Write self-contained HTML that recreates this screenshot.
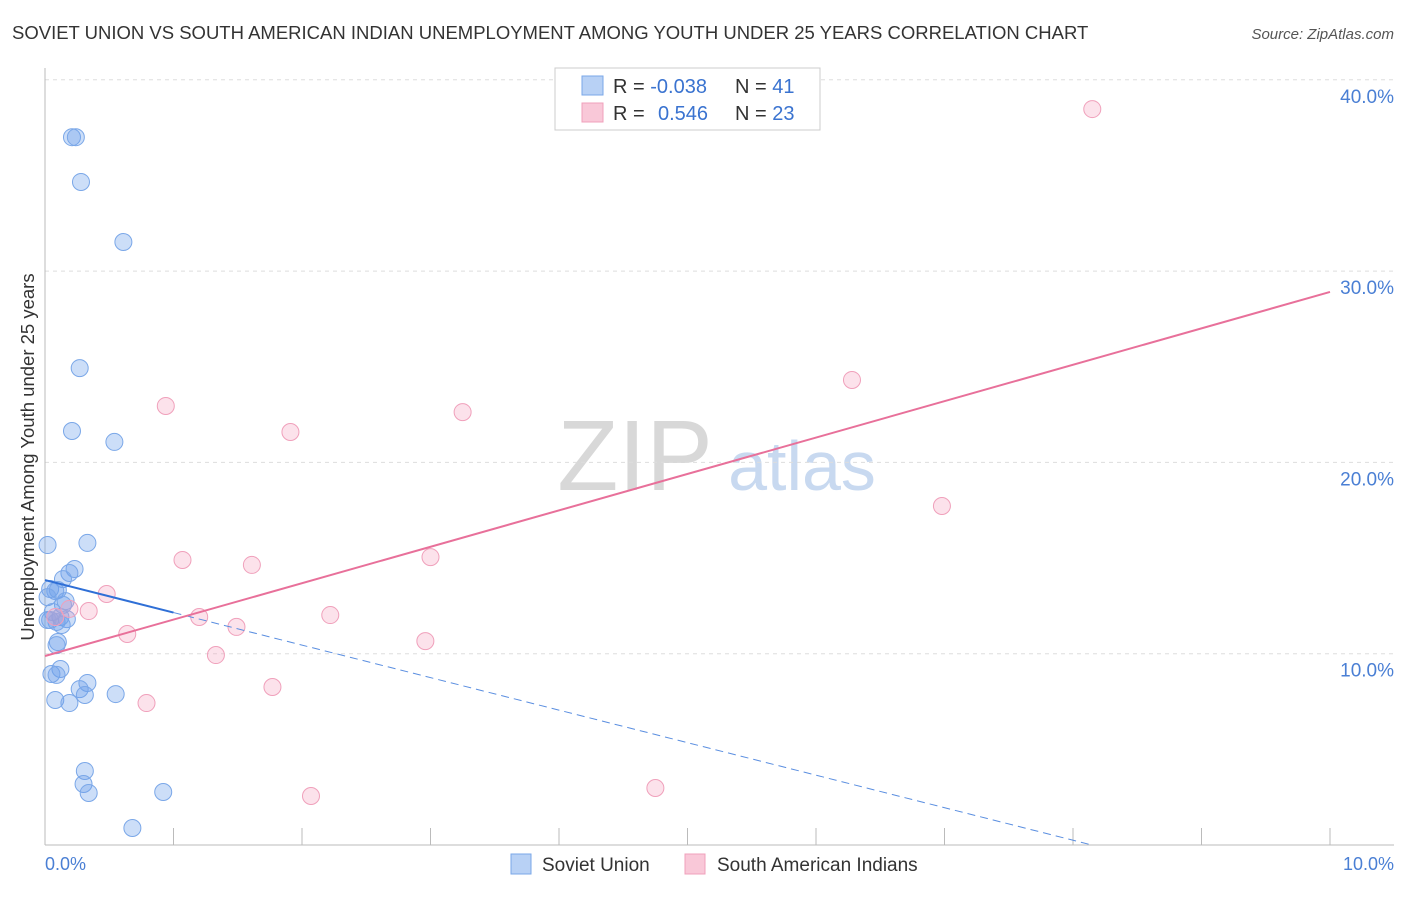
<!DOCTYPE html>
<html><head><meta charset="utf-8"><style>
body{margin:0;background:#fff;font-family:"Liberation Sans",sans-serif;}
svg text{font-family:"Liberation Sans",sans-serif;}
</style></head><body>
<svg id="chart" width="1406" height="892" viewBox="0 0 1406 892" xmlns="http://www.w3.org/2000/svg">
<text x="12" y="39" font-size="18.5" fill="#333">SOVIET UNION VS SOUTH AMERICAN INDIAN UNEMPLOYMENT AMONG YOUTH UNDER 25 YEARS CORRELATION CHART</text>
<text x="1394" y="39" font-size="15" fill="#555" font-style="italic" text-anchor="end">Source: ZipAtlas.com</text>
<g>
<text x="635" y="490" font-size="100" fill="#d8d8d8" text-anchor="middle" font-family="Liberation Serif, serif">ZIP</text>
<text x="802" y="490" font-size="70" fill="#c8d9f0" text-anchor="middle">atlas</text>
</g>
<g id="grid"></g>
<g id="axes"></g>
<g id="marks"></g>
<text transform="translate(34,457) rotate(-90)" font-size="18.5" fill="#333" text-anchor="middle">Unemployment Among Youth under 25 years</text>
<text x="45" y="870" font-size="18" fill="#4a7fd4">0.0%</text>
<text x="1394" y="870" font-size="18" fill="#4a7fd4" text-anchor="end">10.0%</text>
<g>
<rect x="555" y="68" width="265" height="62" fill="#fff" stroke="#ccc"/>
<rect x="582" y="76" width="21" height="19" fill="#b8d1f5" stroke="#7aa7e8"/>
<rect x="582" y="103" width="21" height="19" fill="#f9c8d8" stroke="#f0a0bb"/>
<text x="613" y="93" font-size="20" fill="#333">R = <tspan fill="#3a73d0">-0.038</tspan></text>
<text x="735" y="93" font-size="20" fill="#333">N = <tspan fill="#3a73d0">41</tspan></text>
<text x="613" y="120" font-size="20" fill="#333">R = <tspan x="658" fill="#3a73d0">0.546</tspan></text>
<text x="735" y="120" font-size="20" fill="#333">N = <tspan fill="#3a73d0">23</tspan></text>
</g>
<g>
<rect x="511" y="854" width="20" height="20" fill="#b8d1f5" stroke="#7aa7e8"/>
<text x="542" y="871" font-size="19" fill="#333">Soviet Union</text>
<rect x="685" y="854" width="20" height="20" fill="#f9c8d8" stroke="#f0a0bb"/>
<text x="717" y="871" font-size="19" fill="#333">South American Indians</text>
</g>
</svg>
<script>
const yTicks=[10,20,30,40];
const yTickLabels=["10.0%","20.0%","30.0%","40.0%"];
const xTicks=[0,1,2,3,4,5,6,7,8,9,10];
const blueX=[0.21,0.24,0.28,0.61,0.27,0.21,0.54,0.02,0.33,0.23,0.19,0.14,0.04,0.08,0.10,0.02,0.16,0.14,0.06,0.12,0.17,0.04,0.09,0.13,0.10,0.09,0.12,0.05,0.09,0.33,0.27,0.31,0.55,0.08,0.19,0.31,0.30,0.34,0.92,0.68,0.02];
const blueY=[37.0,37.0,34.66,31.52,24.93,21.64,21.07,15.68,15.79,14.43,14.22,13.90,13.38,13.28,13.33,12.96,12.75,12.55,12.18,11.92,11.81,11.76,11.66,11.50,10.61,10.45,9.20,8.94,8.89,8.47,8.15,7.84,7.89,7.58,7.42,3.87,3.19,2.72,2.77,0.89,11.76];
const pinkX=[8.15,6.28,0.94,3.25,1.91,6.98,1.07,3.00,1.61,0.48,0.19,0.34,2.22,1.20,1.49,0.64,2.96,1.33,1.77,0.79,2.07,4.75,0.08];
const pinkY=[38.47,24.31,22.95,22.63,21.59,17.72,14.90,15.05,14.64,13.12,12.34,12.23,12.02,11.92,11.40,11.03,10.66,9.93,8.26,7.42,2.56,2.98,11.92];
const blueTrend=[13.85,-1.70];
const pinkTrend=[9.88,1.903];
const NS="http://www.w3.org/2000/svg";
const X=v=>45+v*128.5, Y=v=>845-v*19.13;
function mk(t,a,p){const e=document.createElementNS(NS,t);for(const k in a)e.setAttribute(k,a[k]);p.appendChild(e);return e;}
const grid=document.getElementById('grid'),axes=document.getElementById('axes'),marks=document.getElementById('marks');
yTicks.forEach((v,i)=>{
 const l=mk('line',{x1:45,x2:1394,y1:Y(v),y2:Y(v),stroke:'#ddd','stroke-dasharray':'4,4'},grid);
 
 
 const t=mk('text',{x:1394,y:Y(v)+23,'font-size':19,fill:'#4a7fd4','text-anchor':'end'},grid);
 t.textContent=yTickLabels[i];
 
 
});
const ax=mk('line',{x1:45,x2:1394,y1:845,y2:845,stroke:'#bbb'},axes);


const ay=mk('line',{x1:45,x2:45,y1:68,y2:845,stroke:'#bbb'},axes);


xTicks.forEach(v=>{
 const l=mk('line',{x1:X(v),x2:X(v),y1:828,y2:845,stroke:'#bbb'},axes);
 
 
});
blueX.forEach((x,i)=>{
 const c=mk('circle',{cx:X(x),cy:Y(blueY[i]),r:8.5,fill:'rgba(110,160,235,0.35)',stroke:'#7aa7e8','stroke-width':1},marks);
 
 
});
pinkX.forEach((x,i)=>{
 const c=mk('circle',{cx:X(x),cy:Y(pinkY[i]),r:8.5,fill:'rgba(245,160,190,0.3)',stroke:'#f0a0bb','stroke-width':1},marks);
 
 
});
const bEnd=-blueTrend[0]/blueTrend[1];
const bs=mk('line',{x1:X(0),y1:Y(blueTrend[0]),x2:X(1),y2:Y(blueTrend[0]+blueTrend[1]),stroke:'#2f6fd6','stroke-width':2},marks);


const bd=mk('line',{x1:X(1),y1:Y(blueTrend[0]+blueTrend[1]),x2:X(bEnd),y2:Y(0),stroke:'#5a8ee0','stroke-width':1,'stroke-dasharray':'8,5'},marks);


const pl=mk('line',{x1:X(0),y1:Y(pinkTrend[0]),x2:X(10),y2:Y(pinkTrend[0]+pinkTrend[1]*10),stroke:'#e8709a','stroke-width':2},marks);


</script>
</body></html>
